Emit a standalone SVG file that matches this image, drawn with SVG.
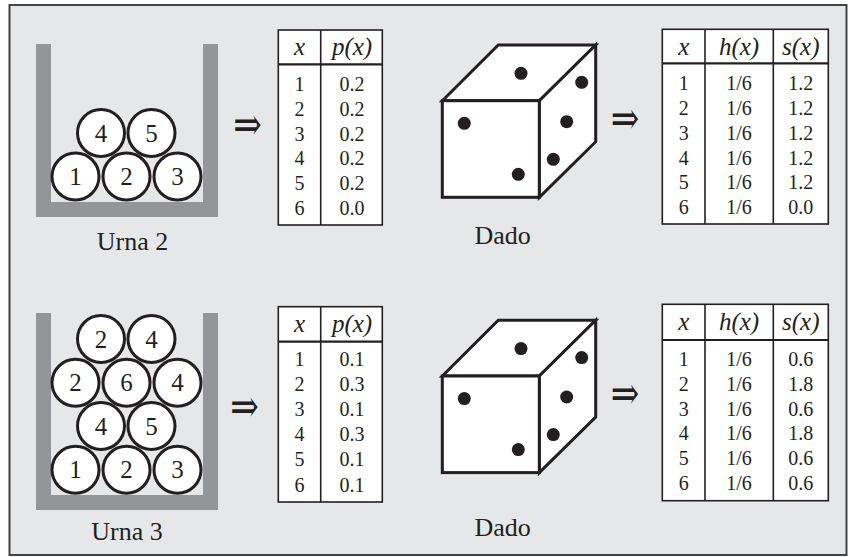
<svg xmlns="http://www.w3.org/2000/svg" width="848" height="557" viewBox="0 0 848 557">
  <style>
    .frame { fill: #e6e7e8; stroke: #414042; stroke-width: 2; }
    .urn { fill: #939598; }
    .ball { fill: #ffffff; stroke: #231f20; stroke-width: 3; }
    .face { fill: #ffffff; stroke: #231f20; stroke-width: 3; stroke-linejoin: miter; }
    .pip { fill: #231f20; }
    .tbl { fill: #ffffff; stroke: #231f20; stroke-width: 1.6; }
    .rule { stroke: #231f20; stroke-width: 1.6; fill: none; }
    .rule2 { stroke: #231f20; stroke-width: 2.2; fill: none; }
    text { font-family: "Liberation Serif", "Times New Roman", serif; fill: #231f20; text-anchor: middle; }
    .num { font-size: 25px; }
    .lbl { font-size: 26px; }
    .hd { font-size: 25px; font-style: italic; }
    .cell { font-size: 20px; }
    .arr { font-size: 34px; font-family: "Liberation Serif", "DejaVu Serif", serif; }
  </style>
  <defs>
    <!-- one die, drawn in perspective with its pips -->
    <g id="die">
      <polygon class="face" points="442.3,100.7 498.3,45 595.7,45 539.3,100.7"/>
      <polygon class="face" points="539.3,100.7 595.7,45 595.7,141.7 539.3,197.3"/>
      <rect class="face" x="442.3" y="100.7" width="97" height="96.6"/>
      <circle class="pip" cx="521" cy="73.3" r="6.5"/>
      <circle class="pip" cx="581.7" cy="82.3" r="6.5"/>
      <circle class="pip" cx="566.7" cy="121.7" r="6.5"/>
      <circle class="pip" cx="553.3" cy="159.3" r="6.5"/>
      <circle class="pip" cx="464.3" cy="123.3" r="6.5"/>
      <circle class="pip" cx="518.3" cy="174.3" r="6.5"/>
    </g>
  </defs>

  <rect class="frame" x="9.5" y="5" width="837" height="550"/>

  <!-- Urna 2 -->
  <g id="urna2">
    <path class="urn" d="M36,44 H51 V202 H203 V44 H218 V217 H36 Z"/>
    <circle class="ball" cx="75.5" cy="176.5" r="23.5"/>
    <circle class="ball" cx="126.5" cy="176.5" r="23.5"/>
    <circle class="ball" cx="177.5" cy="176.5" r="23.5"/>
    <circle class="ball" cx="101" cy="133" r="23.5"/>
    <circle class="ball" cx="151.5" cy="133" r="23.5"/>
    <text class="num" x="75.5" y="185">1</text>
    <text class="num" x="126.5" y="185">2</text>
    <text class="num" x="177.5" y="185">3</text>
    <text class="num" x="101" y="141.5">4</text>
    <text class="num" x="151.5" y="141.5">5</text>
    <text class="lbl" x="132.5" y="250">Urna 2</text>
  </g>

  <!-- Tabla p(x), urna 2 -->
  <g id="tabla-p2">
    <rect class="tbl" x="278.3" y="30" width="104" height="195"/>
    <line class="rule" x1="320.7" y1="30" x2="320.7" y2="225"/>
    <line class="rule2" x1="278.3" y1="64.3" x2="382.3" y2="64.3"/>
    <text class="hd" x="299.5" y="55">x</text>
    <text class="hd" x="352" y="55">p(x)</text>
    <g class="cell">
      <text x="299.5" y="91">1</text><text x="352" y="91">0.2</text>
      <text x="299.5" y="115.8">2</text><text x="352" y="115.8">0.2</text>
      <text x="299.5" y="140.6">3</text><text x="352" y="140.6">0.2</text>
      <text x="299.5" y="165.4">4</text><text x="352" y="165.4">0.2</text>
      <text x="299.5" y="190.2">5</text><text x="352" y="190.2">0.2</text>
      <text x="299.5" y="215">6</text><text x="352" y="215">0.0</text>
    </g>
  </g>

  <!-- Dado (arriba) -->
  <g id="dado1">
    <use href="#die"/>
    <text class="lbl" x="502.7" y="244.3">Dado</text>
  </g>

  <!-- Tabla h(x), s(x), urna 2 -->
  <g id="tabla-hs2">
    <rect class="tbl" x="662.3" y="29.3" width="166" height="194.7"/>
    <line class="rule" x1="705" y1="29.3" x2="705" y2="224"/>
    <line class="rule" x1="773.3" y1="29.3" x2="773.3" y2="224"/>
    <line class="rule2" x1="662.3" y1="63.3" x2="828.3" y2="63.3"/>
    <text class="hd" x="683.7" y="55">x</text>
    <text class="hd" x="739" y="55">h(x)</text>
    <text class="hd" x="800.8" y="55">s(x)</text>
    <g class="cell">
      <text x="683.7" y="90">1</text><text x="739" y="90">1/6</text><text x="800.8" y="90">1.2</text>
      <text x="683.7" y="114.9">2</text><text x="739" y="114.9">1/6</text><text x="800.8" y="114.9">1.2</text>
      <text x="683.7" y="139.7">3</text><text x="739" y="139.7">1/6</text><text x="800.8" y="139.7">1.2</text>
      <text x="683.7" y="164.6">4</text><text x="739" y="164.6">1/6</text><text x="800.8" y="164.6">1.2</text>
      <text x="683.7" y="189.4">5</text><text x="739" y="189.4">1/6</text><text x="800.8" y="189.4">1.2</text>
      <text x="683.7" y="214.3">6</text><text x="739" y="214.3">1/6</text><text x="800.8" y="214.3">0.0</text>
    </g>
  </g>

  <!-- Urna 3 -->
  <g id="urna3">
    <path class="urn" d="M36,313 H51 V495 H203 V313 H218 V510 H36 Z"/>
    <circle class="ball" cx="75.5" cy="469.7" r="23.5"/>
    <circle class="ball" cx="126.5" cy="469.7" r="23.5"/>
    <circle class="ball" cx="177.5" cy="469.7" r="23.5"/>
    <circle class="ball" cx="101" cy="426" r="23.5"/>
    <circle class="ball" cx="151.5" cy="426" r="23.5"/>
    <circle class="ball" cx="75.5" cy="382.8" r="23.5"/>
    <circle class="ball" cx="126.5" cy="382.8" r="23.5"/>
    <circle class="ball" cx="177.5" cy="382.8" r="23.5"/>
    <circle class="ball" cx="101" cy="339" r="23.5"/>
    <circle class="ball" cx="151.5" cy="339" r="23.5"/>
    <text class="num" x="75.5" y="478.2">1</text>
    <text class="num" x="126.5" y="478.2">2</text>
    <text class="num" x="177.5" y="478.2">3</text>
    <text class="num" x="101" y="434.5">4</text>
    <text class="num" x="151.5" y="434.5">5</text>
    <text class="num" x="75.5" y="391.3">2</text>
    <text class="num" x="126.5" y="391.3">6</text>
    <text class="num" x="177.5" y="391.3">4</text>
    <text class="num" x="101" y="347.5">2</text>
    <text class="num" x="151.5" y="347.5">4</text>
    <text class="lbl" x="127" y="540">Urna 3</text>
  </g>

  <!-- Tabla p(x), urna 3 -->
  <g id="tabla-p3">
    <rect class="tbl" x="278.3" y="306.7" width="104" height="195.3"/>
    <line class="rule" x1="320.7" y1="306.7" x2="320.7" y2="502"/>
    <line class="rule2" x1="278.3" y1="341.7" x2="382.3" y2="341.7"/>
    <text class="hd" x="299.5" y="332">x</text>
    <text class="hd" x="352" y="332">p(x)</text>
    <g class="cell">
      <text x="299.5" y="366">1</text><text x="352" y="366">0.1</text>
      <text x="299.5" y="391.1">2</text><text x="352" y="391.1">0.3</text>
      <text x="299.5" y="416.2">3</text><text x="352" y="416.2">0.1</text>
      <text x="299.5" y="441.3">4</text><text x="352" y="441.3">0.3</text>
      <text x="299.5" y="466.4">5</text><text x="352" y="466.4">0.1</text>
      <text x="299.5" y="491.5">6</text><text x="352" y="491.5">0.1</text>
    </g>
  </g>

  <!-- Dado (abajo) -->
  <g id="dado2">
    <use href="#die" transform="translate(0,275.3)"/>
    <text class="lbl" x="502.7" y="536">Dado</text>
  </g>

  <!-- Tabla h(x), s(x), urna 3 -->
  <g id="tabla-hs3">
    <rect class="tbl" x="662.3" y="304.3" width="166" height="196.4"/>
    <line class="rule" x1="705" y1="304.3" x2="705" y2="500.7"/>
    <line class="rule" x1="773.3" y1="304.3" x2="773.3" y2="500.7"/>
    <line class="rule2" x1="662.3" y1="340" x2="828.3" y2="340"/>
    <text class="hd" x="683.7" y="330">x</text>
    <text class="hd" x="739" y="330">h(x)</text>
    <text class="hd" x="800.8" y="330">s(x)</text>
    <g class="cell">
      <text x="683.7" y="366">1</text><text x="739" y="366">1/6</text><text x="800.8" y="366">0.6</text>
      <text x="683.7" y="390.8">2</text><text x="739" y="390.8">1/6</text><text x="800.8" y="390.8">1.8</text>
      <text x="683.7" y="415.6">3</text><text x="739" y="415.6">1/6</text><text x="800.8" y="415.6">0.6</text>
      <text x="683.7" y="440.4">4</text><text x="739" y="440.4">1/6</text><text x="800.8" y="440.4">1.8</text>
      <text x="683.7" y="465.2">5</text><text x="739" y="465.2">1/6</text><text x="800.8" y="465.2">0.6</text>
      <text x="683.7" y="490">6</text><text x="739" y="490">1/6</text><text x="800.8" y="490">0.6</text>
    </g>
  </g>

  <!-- implication arrows between the panels, stretched a little upright -->
  <g id="connectors">
    <text class="arr" transform="translate(247.5,126) scale(1,1.35)" x="0" y="10.5">⇒</text>
    <text class="arr" transform="translate(625,119.5) scale(1,1.35)" x="0" y="10.5">⇒</text>
    <text class="arr" transform="translate(244.5,407.5) scale(1,1.35)" x="0" y="10.5">⇒</text>
    <text class="arr" transform="translate(625,395) scale(1,1.35)" x="0" y="10.5">⇒</text>
  </g>
</svg>
